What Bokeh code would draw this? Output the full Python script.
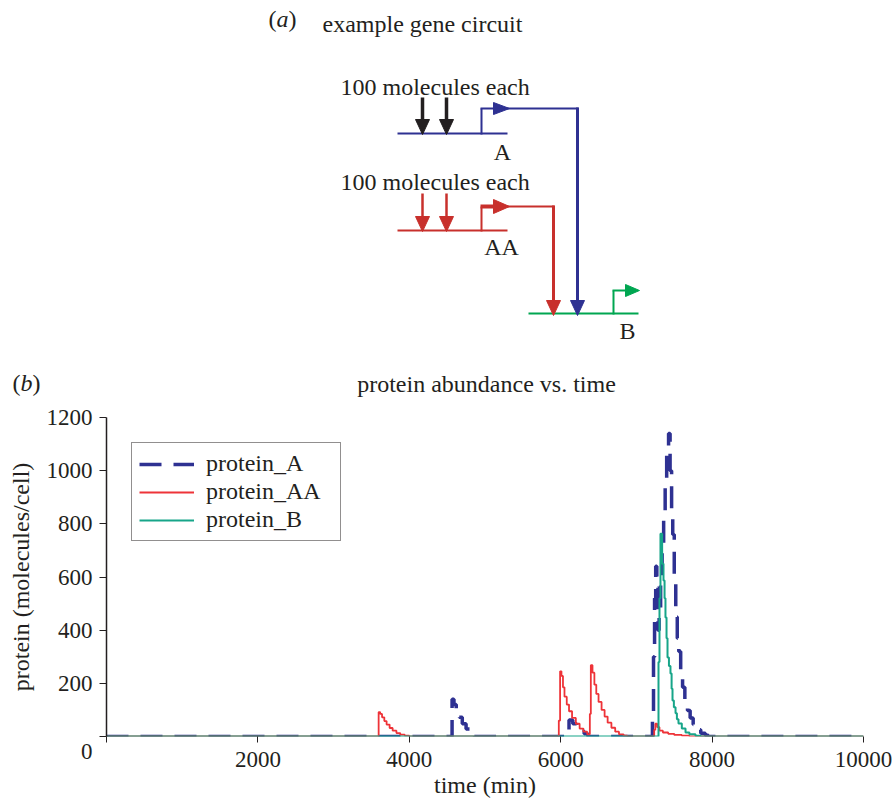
from bokeh.plotting import figure
from bokeh.models import Range1d, FixedTicker
from bokeh.layouts import column
from bokeh.embed import file_html
from bokeh.resources import INLINE
from bokeh.core.properties import value

SERIF = "Liberation Serif"
INK = "#231f20"

# ---------------- panel (b) data ----------------
x_ticks = [0, 2000, 4000, 6000, 8000, 10000]
x_tick_labels = ["", "2000", "4000", "6000", "8000", "10000"]
y_ticks = [0, 200, 400, 600, 800, 1000, 1200]
y_tick_labels = [" \n0", "200", "400", "600", "800", "1000", "1200"]

series_names = ["protein_A", "protein_AA", "protein_B"]
series_colors = ["#2e3192", "#ee3338", "#17a589"]

time_A = [0, 4565, 4590, 4620, 4660, 4700, 4750, 4800, 4860, 6110, 6160, 6210, 6260,
          6310, 6360, 7212, 7226, 7240, 7255, 7270, 7285, 7300, 7320, 7340, 7360, 7380,
          7400, 7425, 7445, 7465, 7480, 7500, 7520, 7540, 7560, 7585, 7610, 7640, 7675,
          7710, 7750, 7800, 7850, 7910, 7950, 10000]
protein_A = [0, 140, 120, 100, 72, 48, 28, 12, 0, 62, 48, 32, 20,
             10, 0, 80, 300, 520, 640, 560, 400, 460, 600, 720, 830, 950,
             1060, 1140, 1000, 850, 760, 600, 450, 370, 320, 240, 185, 140, 98,
             70, 45, 25, 12, 5, 0, 0]

time_AA = [0, 3595, 3615, 3640, 3670, 3700, 3740, 3780, 3830, 3880, 3940, 4000,
           5975, 5992, 6010, 6030, 6050, 6080, 6110, 6150, 6200, 6250, 6300, 6350,
           6385, 6398, 6420, 6445, 6470, 6500, 6540, 6580, 6620, 6670, 6720, 6770,
           6830, 6880, 7235, 7250, 7275, 7305, 7350, 7420, 7500, 7600, 7700, 10000]
protein_AA = [0, 92, 85, 72, 58, 45, 32, 22, 13, 7, 3, 0,
              60, 245, 228, 185, 150, 120, 95, 70, 48, 30, 18, 8,
              85, 268, 240, 195, 160, 130, 100, 75, 52, 33, 18, 8,
              3, 0, 25, 48, 35, 22, 15, 10, 6, 3, 0, 0]

time_B = [0, 7292, 7305, 7318, 7340, 7358, 7372, 7384, 7398, 7411, 7430, 7450,
          7465, 7477, 7495, 7517, 7535, 7556, 7600, 7649, 7700, 7780, 7850, 10000]
protein_B = [0, 280, 520, 763, 650, 587, 520, 448, 370, 297, 265, 237,
             180, 135, 110, 87, 65, 49, 30, 15, 8, 3, 0, 0]

# ---------------- panel (a) diagram (page pixel coordinates) ----------------
BLUE, DRED, GREEN = "#2e3192", "#c8302c", "#00a651"
seg_x0 = [397, 481, 480, 505, 577, 422, 446, 397, 422, 446, 481, 480, 505, 553, 528, 613, 612]
seg_y0 = [133, 134, 108, 108, 107, 97, 97, 230, 193, 193, 231, 206, 206, 205, 313, 314, 290]
seg_x1 = [507, 481, 496, 578, 577, 422, 446, 507, 422, 446, 481, 495, 554, 553, 638, 613, 627]
seg_y1 = [133, 108, 108, 108, 302, 121, 121, 230, 218, 218, 206, 206, 206, 302, 313, 290, 290]
seg_col = [BLUE, BLUE, BLUE, BLUE, BLUE, INK, INK, DRED, DRED, DRED, DRED, DRED, DRED, DRED,
           GREEN, GREEN, GREEN]
seg_w = [2, 2, 2, 2, 3, 3.5, 3.5, 2, 2.5, 2.5, 2, 4, 2, 3, 2, 2, 2]

head_x = [509, 577, 422, 446, 422, 446, 509, 553, 639]
head_y = [108, 315, 134, 134, 231, 231, 206, 315, 290]
head_dir = ["right", "down", "down", "down", "down", "down", "right", "down", "right"]
head_col = [BLUE, BLUE, INK, INK, DRED, DRED, DRED, DRED, GREEN]
head_len = [16, 15, 15, 15, 15, 15, 16, 15, 14]
head_half = [6, 7, 7, 7, 7, 7, 7, 7, 6]

txt = ["example gene circuit", "100 molecules each", "100 molecules each", "(", ")",
       "(", ")", "protein abundance vs. time"]
txt_x = [322, 340, 340, 268, 288, 12, 32, 486]
txt_y = [23, 86, 181, 18, 18, 382, 382, 383]
txt_align = ["left", "left", "left", "left", "left", "left", "left", "center"]

ital = ["a", "b"]
ital_x = [276, 20]
ital_y = [18, 382]

gene_lbl = ["A", "AA", "B"]
gene_x = [502, 501, 627]
gene_y = [151, 246, 330]

# ---------------- top figure (page coordinates) ----------------
top = figure(width=896, height=400, x_range=Range1d(0, 896), y_range=Range1d(400, 0),
             x_axis_type=None, y_axis_type=None, toolbar_location=None,
             output_backend="svg", min_border=0, outline_line_color=None)
top.frame_align = False

top.segment(x0=seg_x0, y0=seg_y0, x1=seg_x1, y1=seg_y1, line_color=seg_col, line_width=seg_w)

hx, hy = [], []
for x, y, d, L, h in zip(head_x, head_y, head_dir, head_len, head_half):
    if d == "down":
        hx.append([x - h, x + h, x])
        hy.append([y - L, y - L, y])
    else:
        hx.append([x - L, x - L, x])
        hy.append([y - h, y + h, y])
top.patches(xs=hx, ys=hy, fill_color=head_col, line_color=head_col, line_width=1)

top.text(x=txt_x, y=txt_y, text=txt, text_align=txt_align, text_baseline="middle",
         text_font=value(SERIF), text_font_size="24px", text_color=INK)
top.text(x=ital_x, y=ital_y, text=ital, text_align="left", text_baseline="middle",
         text_font=value(SERIF), text_font_size="24px", text_font_style="italic", text_color=INK)
top.text(x=gene_x, y=gene_y, text=gene_lbl, text_align="center", text_baseline="middle",
         text_font=value(SERIF), text_font_size="24px", text_color=INK)

# ---------------- bottom figure ----------------
p = figure(width=896, height=400, x_range=Range1d(0, 10000), y_range=Range1d(0, 1200),
           toolbar_location=None, output_backend="svg",
           min_border_left=106, min_border_right=33, min_border_top=17, min_border_bottom=64)
p.frame_align = False
p.outline_line_color = None
p.grid.visible = False

p.step(time_A, protein_A, mode="after", line_color=series_colors[0], line_width=3.5,
       line_dash="22 12", legend_label=series_names[0])
p.step(time_AA, protein_AA, mode="after", line_color=series_colors[1], line_width=1.8,
       legend_label=series_names[1])
p.step(time_B, protein_B, mode="after", line_color=series_colors[2], line_width=2,
       legend_label=series_names[2])

xa = p.xaxis[0]
xa.ticker = FixedTicker(ticks=x_ticks, minor_ticks=[])
xa.major_label_overrides = {t: l for t, l in zip(x_ticks, x_tick_labels)}
xa.axis_line_color = None
xa.major_tick_in = 0
xa.major_tick_out = 6
xa.major_tick_line_color = INK
xa.minor_tick_out = 0
xa.minor_tick_in = 0
xa.major_label_standoff = 9
xa.major_label_text_font = SERIF
xa.major_label_text_font_size = "23px"
xa.major_label_text_color = INK
xa.axis_label = "time (min)"
xa.axis_label_text_font = SERIF
xa.axis_label_text_font_size = "24px"
xa.axis_label_text_font_style = "normal"
xa.axis_label_text_color = INK
xa.axis_label_standoff = 2

ya = p.yaxis[0]
ya.ticker = FixedTicker(ticks=y_ticks, minor_ticks=[])
ya.major_label_overrides = {t: l for t, l in zip(y_ticks, y_tick_labels)}
ya.axis_line_color = INK
ya.axis_line_width = 1.5
ya.major_tick_in = 0
ya.major_tick_out = 7
ya.major_tick_line_color = INK
ya.minor_tick_out = 0
ya.minor_tick_in = 0
ya.major_label_standoff = 7
ya.major_label_text_font = SERIF
ya.major_label_text_font_size = "23px"
ya.major_label_text_color = INK
ya.axis_label = "protein (molecules/cell)"
ya.axis_label_text_font = SERIF
ya.axis_label_text_font_size = "24px"
ya.axis_label_text_font_style = "normal"
ya.axis_label_text_color = INK
ya.axis_label_standoff = 10

lg = p.legend[0]
lg.location = "top_left"
lg.margin = 25
lg.label_text_font = SERIF
lg.label_text_font_size = "24px"
lg.label_text_color = INK
lg.glyph_width = 55
lg.glyph_height = 26
lg.label_height = 26
lg.label_width = 127
lg.label_standoff = 12
lg.spacing = 1
lg.padding = 7
lg.border_line_color = INK
lg.border_line_width = 1.2
lg.background_fill_alpha = 1

layout = column(top, p, spacing=0)
open("out.html", "w").write(file_html(layout, INLINE))
